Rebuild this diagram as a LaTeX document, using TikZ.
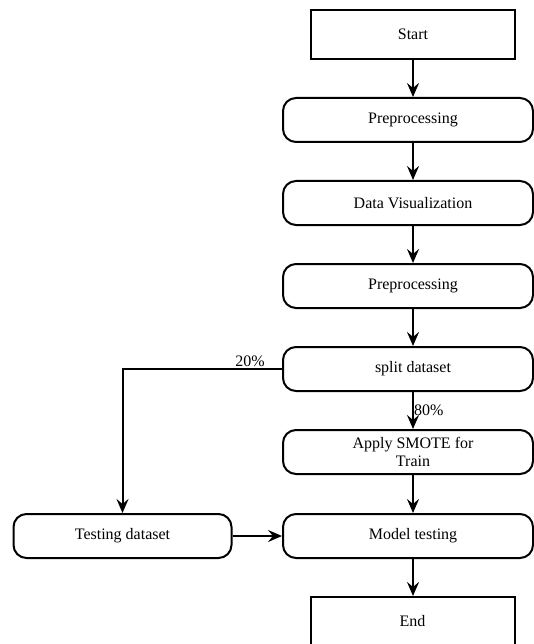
\documentclass[tikz,border=0pt]{standalone}
\usepackage{fontspec}
\setmainfont{Liberation Serif}
\usetikzlibrary{arrows.meta}
\begin{document}
\begin{tikzpicture}[x=1pt,y=-1pt,
  every node/.style={font=\fontsize{16}{18}\selectfont},
  termbox/.style={draw, line width=2pt, minimum width=204pt, minimum height=49pt, inner sep=0pt},
  procbox/.style={draw, line width=2pt, rounded corners=13pt, minimum width=250pt, minimum height=44pt, inner sep=0pt, align=center},
  flow/.style={line width=2pt, -{Stealth[length=14pt,width=12pt,inset=5pt]}},
  lbl/.style={inner sep=1pt}]
\useasboundingbox (0,0) rectangle (534,644);
\node[termbox] (start) at (413,34.5) {Start};
\node[procbox] (pre1) at (408,120) {\hspace*{10pt}Preprocessing};
\node[procbox] (vis) at (408,203) {\hspace*{10pt}Data Visualization};
\node[procbox] (pre2) at (408,286) {\hspace*{10pt}Preprocessing};
\node[procbox] (split) at (408,369) {\hspace*{10pt}split dataset};
\node[procbox] (smote) at (408,452) {\hspace*{10pt}Apply SMOTE for\\\hspace*{10pt}Train};
\node[procbox] (model) at (408,536) {\hspace*{10pt}Model testing};
\node[procbox, minimum width=218pt] (test) at (122.5,536) {Testing dataset};
\node[termbox] (end) at (412.5,621.5) {End};
\coordinate (corner) at (122.5,369);
\draw[flow] (start.south) -- (start.south |- pre1.north);
\draw[flow] (start.south |- pre1.south) -- (start.south |- vis.north);
\draw[flow] (start.south |- vis.south) -- (start.south |- pre2.north);
\draw[flow] (start.south |- pre2.south) -- (start.south |- split.north);
\draw[flow] (start.south |- split.south) -- node[lbl, right, xshift=-1pt] {80\%} (start.south |- smote.north);
\draw[flow] (start.south |- smote.south) -- (start.south |- model.north);
\draw[flow] (start.south |- model.south) -- (start.south |- end.north);
\draw[flow] (split.west) -- node[lbl, above, pos=0.2] {20\%} (corner) -- (test.north);
\draw[flow] (test.east) -- (model.west);
\end{tikzpicture}
\end{document}
